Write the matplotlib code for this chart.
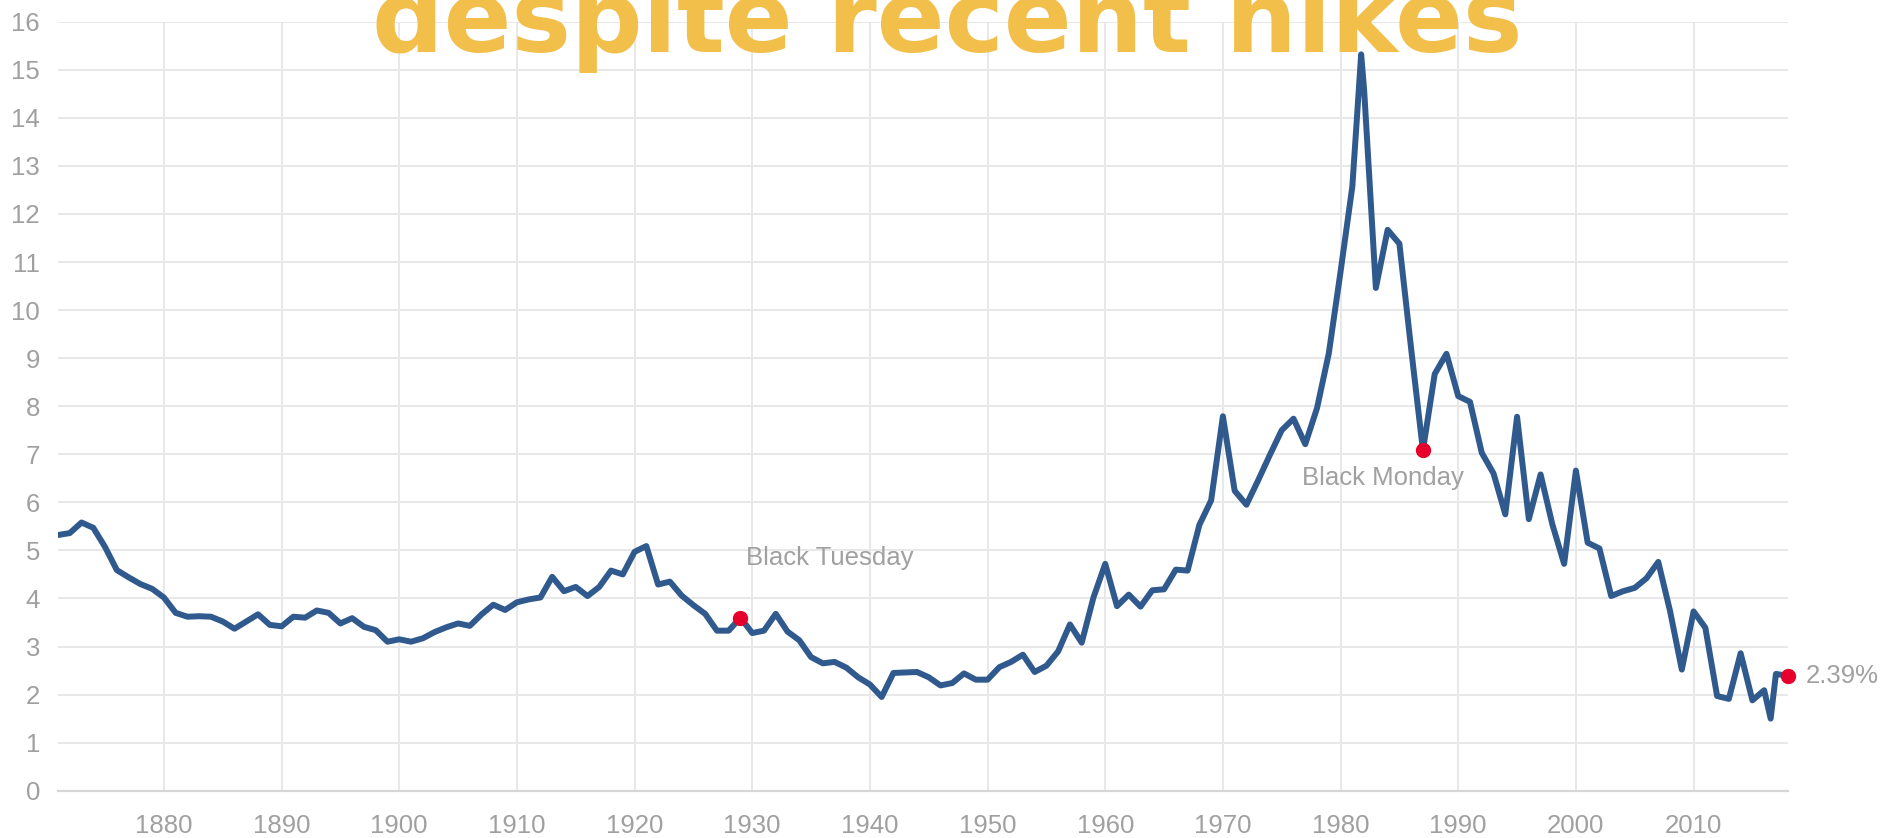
import numpy as np
import matplotlib
matplotlib.use("Agg")
import matplotlib.pyplot as plt

# 10-year treasury yield (%), one point per year 1871-2018
start_year = 1871
yields = [
    5.32, 5.36, 5.58, 5.47, 5.07, 4.59, 4.44, 4.30, 4.20, 4.02,   # 1871-1880
    3.70, 3.62, 3.63, 3.62, 3.52, 3.37, 3.52, 3.67, 3.45, 3.42,   # 1881-1890
    3.62, 3.60, 3.75, 3.70, 3.48, 3.59, 3.41, 3.34, 3.10, 3.15,   # 1891-1900
    3.10, 3.17, 3.30, 3.40, 3.48, 3.43, 3.67, 3.87, 3.76, 3.92,   # 1901-1910
    3.98, 4.02, 4.45, 4.15, 4.24, 4.05, 4.24, 4.58, 4.50, 4.97,   # 1911-1920
    5.09, 4.29, 4.35, 4.06, 3.86, 3.68, 3.33, 3.33, 3.60, 3.28,   # 1921-1930
    3.33, 3.68, 3.31, 3.13, 2.78, 2.65, 2.68, 2.56, 2.36, 2.21,   # 1931-1940
    1.95, 2.45, 2.46, 2.47, 2.36, 2.19, 2.24, 2.44, 2.31, 2.31,   # 1941-1950
    2.57, 2.68, 2.83, 2.47, 2.60, 2.90, 3.46, 3.08, 4.02, 4.72,   # 1951-1960
    3.84, 4.08, 3.83, 4.17, 4.19, 4.60, 4.58, 5.53, 6.04, 7.79,   # 1961-1970
    6.24, 5.95, 6.46, 6.99, 7.50, 7.74, 7.21, 7.96, 9.10, 10.80,  # 1971-1980
    12.57, 14.59, 10.46, 11.67, 11.38, 9.19, 7.08, 8.67, 9.09, 8.21,  # 1981-1990
    8.09, 7.03, 6.60, 5.75, 7.78, 5.65, 6.58, 5.54, 4.72, 6.66,   # 1991-2000
    5.16, 5.04, 4.05, 4.15, 4.22, 4.42, 4.76, 3.74, 2.52, 3.73,   # 2001-2010
    3.39, 1.97, 1.91, 2.86, 1.88, 2.09, 2.43, 2.39,               # 2011-2018
]
# intra-year extremes that show up as extra points on the line
extra_years = [1981.75, 2016.55]
extra_yields = [15.32, 1.50]

# highlighted points
marked_years = [1929, 1987, 2018]
marked_yields = [3.60, 7.08, 2.39]
notes = ["Black Tuesday", "Black Monday"]
note_x = [1929.5, 1976.7]
note_y = [4.70, 6.36]

x_ticks = list(range(1880, 2011, 10))
y_ticks = list(range(0, 17))

years = np.concatenate([np.arange(start_year, start_year + len(yields)), extra_years])
vals = np.concatenate([yields, extra_yields])
order = np.argsort(years)
years, vals = years[order], vals[order]

grey = "#a0a0a0"
fig = plt.figure(figsize=(18.83, 8.38), dpi=100)
ax = fig.add_axes([58 / 1883, 1 - 790.7 / 838, (1787.7 - 58) / 1883, (790.7 - 21.7) / 838])

ax.plot(years, vals, color="#305a8e", lw=4.3, solid_joinstyle="round", zorder=3)
ax.plot(marked_years, marked_yields, "o", color="#e6002b", markersize=10,
        clip_on=False, zorder=4)

for txt, tx, ty in zip(notes, note_x, note_y):
    ax.text(tx, ty, txt, ha="left", va="baseline", fontsize=18.5,
            family="Liberation Sans", color=grey)
ax.annotate(f"{marked_yields[-1]:.2f}%", (marked_years[-1], marked_yields[-1]),
            xytext=(13, 0), textcoords="offset points", ha="left", va="center",
            fontsize=18.5, family="Liberation Sans", color=grey, annotation_clip=False)

ax.set_xlim(1871, 2018)
ax.set_ylim(0, 16)
ax.set_xticks(x_ticks)
ax.set_yticks(y_ticks)
ax.grid(True, color="#e8e8e8", lw=1.4)
ax.set_axisbelow(True)
for side in ["top", "right", "left"]:
    ax.spines[side].set_visible(False)
ax.spines["bottom"].set_color("#d6d6d6")
ax.spines["bottom"].set_linewidth(1.6)
ax.tick_params(length=0, labelsize=18.5, labelcolor=grey)
ax.tick_params(axis="x", pad=17)
ax.tick_params(axis="y", pad=13)
for lab in ax.get_xticklabels() + ax.get_yticklabels():
    lab.set_family("Liberation Sans")

# headline, cut off by the top edge as in the original image
fig.text(947 / 1883, 1 - 51.7 / 838, "despite recent hikes", ha="center", va="baseline",
         fontsize=72, fontweight="bold", family="DejaVu Sans", color="#f2bf4a")

fig.savefig("out.png", dpi=100)
